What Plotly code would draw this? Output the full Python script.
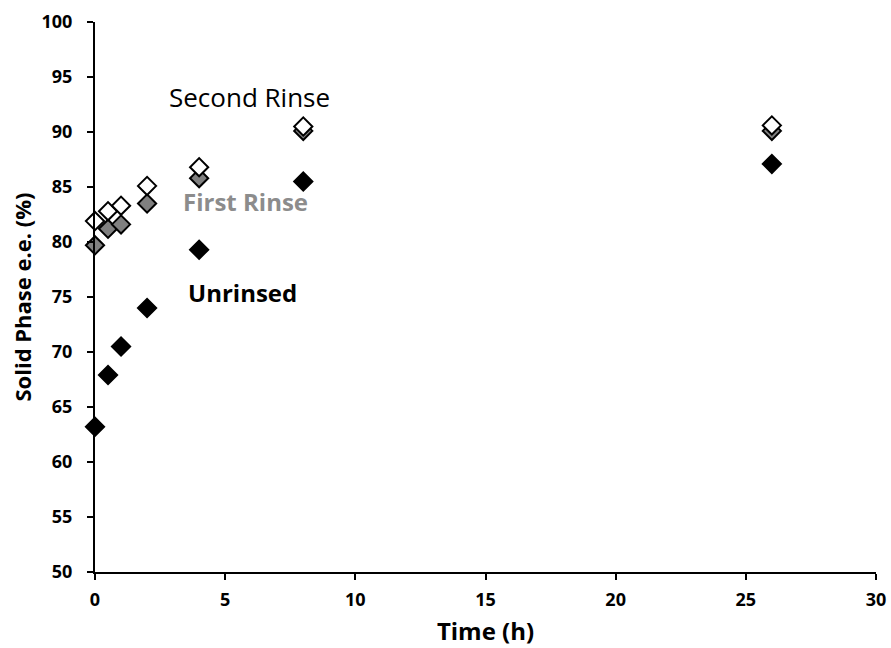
import plotly.graph_objects as go

time_h = [0, 0.5, 1, 2, 4, 8, 26]
unrinsed = [63.2, 67.9, 70.5, 74.0, 79.3, 85.5, 87.1]
first_rinse = [79.7, 81.2, 81.6, 83.5, 85.8, 90.1, 90.1]
second_rinse = [81.9, 82.8, 83.3, 85.1, 86.8, 90.5, 90.6]

FONT = "Open Sans"

fig = go.Figure()
series = [
    ("Unrinsed", unrinsed, "black"),
    ("First Rinse", first_rinse, "#808080"),
    ("Second Rinse", second_rinse, "white"),
]
for name, ys, fill in series:
    fig.add_trace(go.Scatter(
        x=time_h, y=ys, mode="markers", name=name,
        marker=dict(symbol="diamond", size=14, color=fill,
                    line=dict(color="black", width=2)),
        cliponaxis=False,
    ))

fig.add_annotation(x=5.95, y=93.2, text="Second Rinse", showarrow=False,
                   font=dict(family=FONT, size=26, color="black"))
fig.add_annotation(x=5.8, y=83.65, text="<b>First Rinse</b>", showarrow=False,
                   font=dict(family=FONT, size=24, color="#8c8c8c"))
fig.add_annotation(x=5.65, y=75.4, text="<b>Unrinsed</b>", showarrow=False,
                   font=dict(family=FONT, size=24, color="black"))

axis_common = dict(showgrid=False, zeroline=False, showline=True,
                   linecolor="black", linewidth=2, ticks="outside",
                   tickcolor="black", tickwidth=2, ticklen=6,
                   tickfont=dict(family=FONT, size=18, color="black", weight="bold"))

fig.update_xaxes(range=[0, 30], dtick=5, ticklabelstandoff=4, **axis_common,
                 title=dict(text="<b>Time (h)</b>", standoff=14,
                            font=dict(family=FONT, size=24, color="black")))
fig.update_yaxes(range=[50, 100], dtick=5, ticklabelstandoff=11, **axis_common,
                 title=dict(text="<b>Solid Phase e.e. (%)</b>", standoff=4,
                            font=dict(family=FONT, size=22, color="black")))

fig.update_layout(width=891, height=648, showlegend=False,
                  plot_bgcolor="white", paper_bgcolor="white",
                  margin=dict(l=95, r=15, t=22, b=76, autoexpand=False))

fig.write_html("out.html")
